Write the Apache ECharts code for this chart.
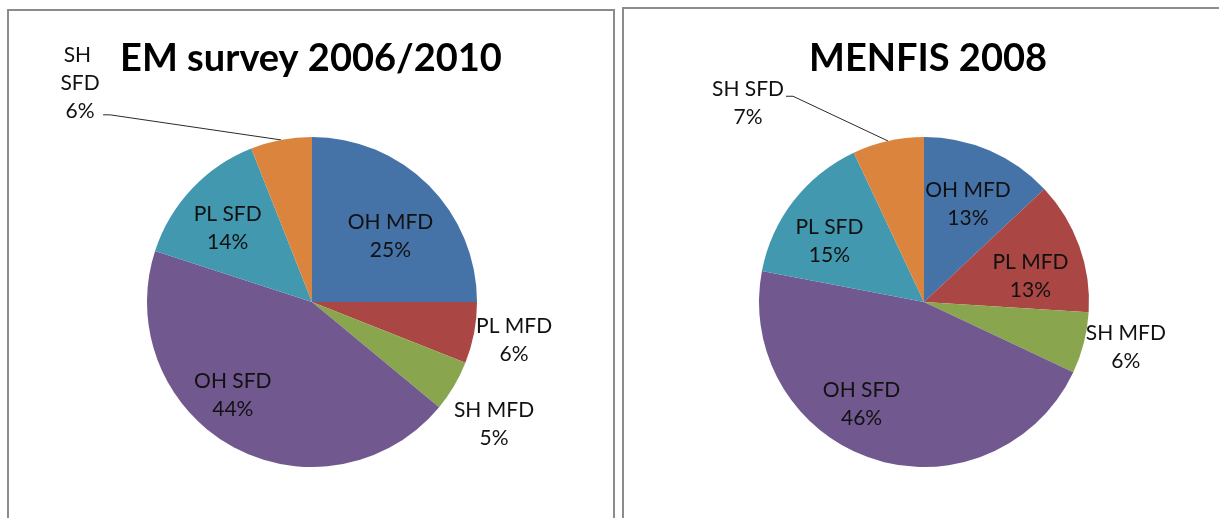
<!DOCTYPE html>
<html>
<head>
<meta charset="utf-8">
<script src="https://cdn.jsdelivr.net/npm/echarts@6/dist/echarts.min.js"></script>
<style>
  html, body { margin: 0; padding: 0; background: #ffffff; }
  #chart { width: 1219px; height: 518px; }
</style>
</head>
<body>
<div id="chart"></div>
<script>
// ---- data ----
const categories = ['OH MFD', 'PL MFD', 'SH MFD', 'OH SFD', 'PL SFD', 'SH SFD'];
const emSurveyValues = [25, 6, 5, 44, 14, 6];
const menfisValues = [13, 13, 6, 46, 15, 7];
const chartTitles = ['EM survey 2006/2010', 'MENFIS 2008'];

// ---- styling ----
const colors = ['#4572A7', '#AA4643', '#89A54E', '#71588F', '#4198AF', '#DB843D'];
const FONT = 'Lato, "Open Sans", sans-serif';
// label positions per series: 'inside' or 'outside'
const labelPos = [
  ['inside', 'outside', 'outside', 'inside', 'inside', 'outside'],
  ['inside', 'inside', 'outside', 'inside', 'inside', 'outside']
];
// fine offsets of labels from the library's default anchors
const labelOffsets = [
  [[18, -5], [35, 7], [35, 38], [-38, 18], [-22, -15], [-196, -57]],
  [[10, -19], [26, 3], [37, 4], [-36, 21], [-27, -8], [-135, -38]]
];
const leaderIndex = 5;           // slice with a leader line
const leaderAttach = [0.88, 0.38]; // vertical attach point on the label block

function buildData(values, s) {
  return categories.map((name, i) => {
    const item = {
      name: name,
      value: values[i],
      itemStyle: { color: colors[i] },
      label: { position: labelPos[s][i] },
      labelLine: { show: i === leaderIndex }
    };
    if (s === 0 && i === leaderIndex) {
      item.label.width = 42;
      item.label.overflow = 'break';
    }
    return item;
  });
}

function makeLayout(s) {
  return function (p) {
    const off = labelOffsets[s][p.dataIndex];
    const res = { dx: off[0], dy: off[1], align: 'center', verticalAlign: 'middle' };
    if (p.dataIndex === leaderIndex && p.labelLinePoints) {
      const r = p.labelRect;
      const ax = p.align === 'right' ? r.x + r.width : (p.align === 'left' ? r.x : r.x + r.width / 2);
      const cxl = ax + off[0];
      const cyl = r.y + r.height / 2 + off[1];
      const yA = cyl - r.height / 2 + r.height * leaderAttach[s];
      const xA = cxl + r.width / 2 + 2;
      res.labelLinePoints = [p.labelLinePoints[0], [xA + 7, yA], [xA, yA]];
    }
    return res;
  };
}

function pieSeries(values, s, center) {
  return {
    type: 'pie',
    center: center,
    radius: 165,
    startAngle: 90,
    clockwise: true,
    avoidLabelOverlap: false,
    silent: true,
    emphasis: { disabled: true },
    itemStyle: { borderWidth: 0 },
    label: {
      show: true,
      formatter: '{b}\n{c}%',
      fontFamily: FONT,
      fontSize: 21,
      lineHeight: 28,
      color: '#111111'
    },
    labelLine: {
      length: 0,
      length2: 0,
      lineStyle: { color: '#2a2a2a', width: 1 }
    },
    labelLayout: makeLayout(s),
    data: buildData(values, s)
  };
}

const chart = echarts.init(document.getElementById('chart'), null, { renderer: 'canvas' });
chart.setOption({
  backgroundColor: '#ffffff',
  animation: false,
  title: [
    {
      text: chartTitles[0], left: 306, top: 35, textAlign: 'center',
      textStyle: { fontFamily: FONT, fontWeight: 'bold', fontSize: 38, color: '#000000' }
    },
    {
      text: chartTitles[1], left: 923, top: 35, textAlign: 'center',
      textStyle: { fontFamily: FONT, fontWeight: 'bold', fontSize: 38, color: '#000000' }
    }
  ],
  graphic: [
    { type: 'rect', shape: { x: 8, y: 10, width: 606, height: 600 },
      style: { fill: 'none', stroke: '#8c8c8c', lineWidth: 2 }, silent: true },
    { type: 'rect', shape: { x: 623, y: 8, width: 700, height: 600 },
      style: { fill: 'none', stroke: '#8c8c8c', lineWidth: 2 }, silent: true }
  ],
  series: [
    pieSeries(emSurveyValues, 0, [312, 302]),
    pieSeries(menfisValues, 1, [924, 302])
  ]
});
</script>
</body>
</html>
